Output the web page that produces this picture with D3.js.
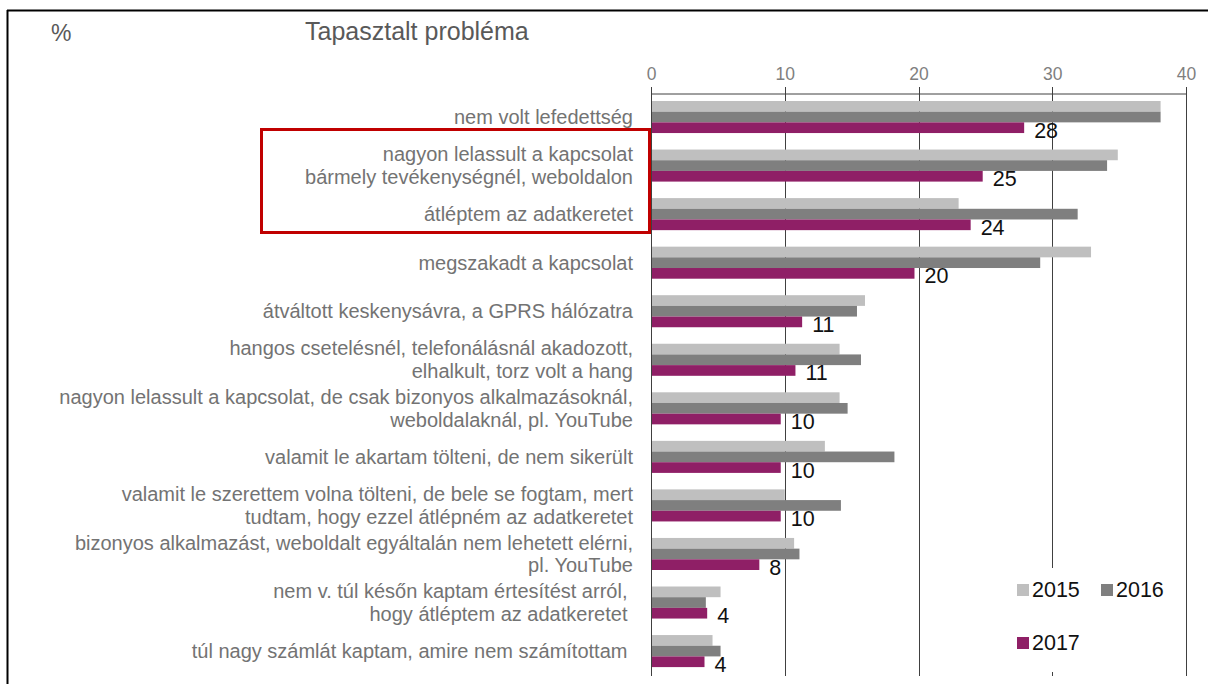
<!DOCTYPE html>
<html>
<head>
<meta charset="utf-8">
<script src="https://cdn.jsdelivr.net/npm/d3@7"></script>
<style>
    body { margin: 0; background: #fff; }
    text { font-family: "Liberation Sans", Arial, sans-serif; white-space: pre; }
</style>
</head>
<body>
<svg id="chart" width="1208" height="684"></svg>
<script>
; (function () {

    // categories, one entry per line of the label
    var categories = [
        ["nem volt lefedettség"],
        ["nagyon lelassult a kapcsolat", "bármely tevékenységnél, weboldalon"],
        ["átléptem az adatkeretet"],
        ["megszakadt a kapcsolat"],
        ["átváltott keskenysávra, a GPRS hálózatra"],
        ["hangos csetelésnél, telefonálásnál akadozott,", "elhalkult, torz volt a hang"],
        ["nagyon lelassult a kapcsolat, de csak bizonyos alkalmazásoknál,", "weboldalaknál, pl. YouTube"],
        ["valamit le akartam tölteni, de nem sikerült"],
        ["valamit le szerettem volna tölteni, de bele se fogtam, mert", "tudtam, hogy ezzel átlépném az adatkeretet"],
        ["bizonyos alkalmazást, weboldalt egyáltalán nem lehetett elérni,", "pl. YouTube"],
        ["nem v. túl későn kaptam értesítést arról, ", "hogy átléptem az adatkeretet "],
        ["túl nagy számlát kaptam, amire nem számítottam "]
    ]

    var years = ["2015", "2016", "2017"]
    var v2015 = [38.1, 34.9, 23.0, 32.9, 16.0, 14.1, 14.1, 13.0, 10.0, 10.7, 5.2, 4.6]
    var v2016 = [38.1, 34.1, 31.9, 29.1, 15.4, 15.7, 14.7, 18.2, 14.2, 11.1, 4.1, 5.2]
    var v2017 = [27.9, 24.8, 23.9, 19.7, 11.3, 10.8, 9.7, 9.7, 9.7, 8.1, 4.2, 4.0]
    var labels2017 = ["28", "25", "24", "20", "11", "11", "10", "10", "10", "8", "4", "4"]
    var xTicks = [0, 10, 20, 30, 40]

    var colors = { "2015": "#bfbfbf", "2016": "#7f7f7f", "2017": "#8f1f66" }

    var svg = d3.select("#chart")

    // outer frame (top and left edge only visible)
    svg.append("line").attr("x1", 7).attr("x2", 1208).attr("y1", 10.5).attr("y2", 10.5)
        .attr("stroke", "#000").attr("stroke-width", 2)
    svg.append("line").attr("x1", 7.5).attr("x2", 7.5).attr("y1", 10).attr("y2", 684)
        .attr("stroke", "#000").attr("stroke-width", 2)

    var x = d3.scaleLinear().domain([0, 40]).range([651, 1186])
    var idx = d3.range(categories.length)
    var y = d3.scaleBand().domain(idx).range([92.75, 675.35])
        .paddingInner(0.34).paddingOuter(0.17)
    var yIn = d3.scaleBand().domain(years).range([0, y.bandwidth()])

    var axisY = 93, gridBottom = 676

    // gridlines + axis
    var g = svg.append("g")
    g.selectAll(".grid").data(xTicks).enter().append("line")
        .attr("class", "grid")
        .attr("x1", d => Math.round(x(d)) + 0.5).attr("x2", d => Math.round(x(d)) + 0.5)
        .attr("y1", axisY - 6).attr("y2", gridBottom)
        .attr("stroke", "#404040").attr("stroke-width", 1)

    var axis = d3.axisTop(x).tickValues(xTicks).tickSize(0).tickPadding(14)
    var ax = g.append("g").attr("transform", "translate(0," + (axisY + 0.5) + ")").call(axis)
    ax.select(".domain").attr("stroke", "#404040")
    ax.selectAll("text").attr("fill", "#7f7f7f").style("font-size", "17.5px")

    // bars
    var series = [v2015, v2016, v2017]
    years.forEach(function (yr, s) {
        svg.append("g").selectAll("rect").data(series[s]).enter().append("rect")
            .attr("x", x(0) + 1)
            .attr("y", (d, i) => y(i) + yIn(yr))
            .attr("width", d => x(d) - x(0) - 1)
            .attr("height", yIn.bandwidth())
            .attr("fill", colors[yr])
    })

    // value labels for 2017
    svg.append("g").selectAll("text").data(v2017).enter().append("text")
        .attr("x", d => x(d) + 10)
        .attr("y", (d, i) => y(i) + yIn("2017") + yIn.bandwidth() / 2 + 3)
        .attr("dominant-baseline", "central")
        .attr("fill", "#111")
        .style("font-size", "21.5px")
        .text((d, i) => labels2017[i])

    // category labels
    var lh = 22.7
    var cat = svg.append("g").selectAll("text").data(categories).enter().append("text")
        .attr("text-anchor", "end")
        .attr("fill", "#737373")
        .style("font-size", "20px")
    cat.each(function (lines, i) {
        var c = y(i) + y.bandwidth() / 2
        var t = d3.select(this)
        lines.forEach(function (ln, j) {
            t.append("tspan")
                .attr("x", 633)
                .attr("y", c + (j - (lines.length - 1) / 2) * lh)
                .attr("dominant-baseline", "central")
                .text(ln)
        })
    })

    // highlight box
    svg.append("rect").attr("x", 261.5).attr("y", 129.5).attr("width", 388).attr("height", 103)
        .attr("fill", "none").attr("stroke", "#c00000").attr("stroke-width", 3)

    // titles
    svg.append("text").attr("x", 51).attr("y", 41).attr("fill", "#595959")
        .style("font-size", "23px").text("%")
    svg.append("text").attr("x", 305).attr("y", 40).attr("fill", "#595959")
        .style("font-size", "25px").text("Tapasztalt probléma")

    // legend
    var leg = svg.append("g")
    leg.append("rect").attr("x", 1006).attr("y", 568).attr("width", 172).attr("height", 104).attr("fill", "#fff")
    var legPos = [[1017, 584], [1101, 584], [1017, 637]]
    years.forEach(function (yr, i) {
        var p = legPos[i]
        leg.append("rect").attr("x", p[0]).attr("y", p[1]).attr("width", 12).attr("height", 12)
            .attr("fill", colors[yr])
        leg.append("text").attr("x", p[0] + 15).attr("y", p[1] + 6)
            .attr("dominant-baseline", "central")
            .attr("fill", "#111").style("font-size", "21.5px").text(yr)
    })

})();
</script>
</body>
</html>
